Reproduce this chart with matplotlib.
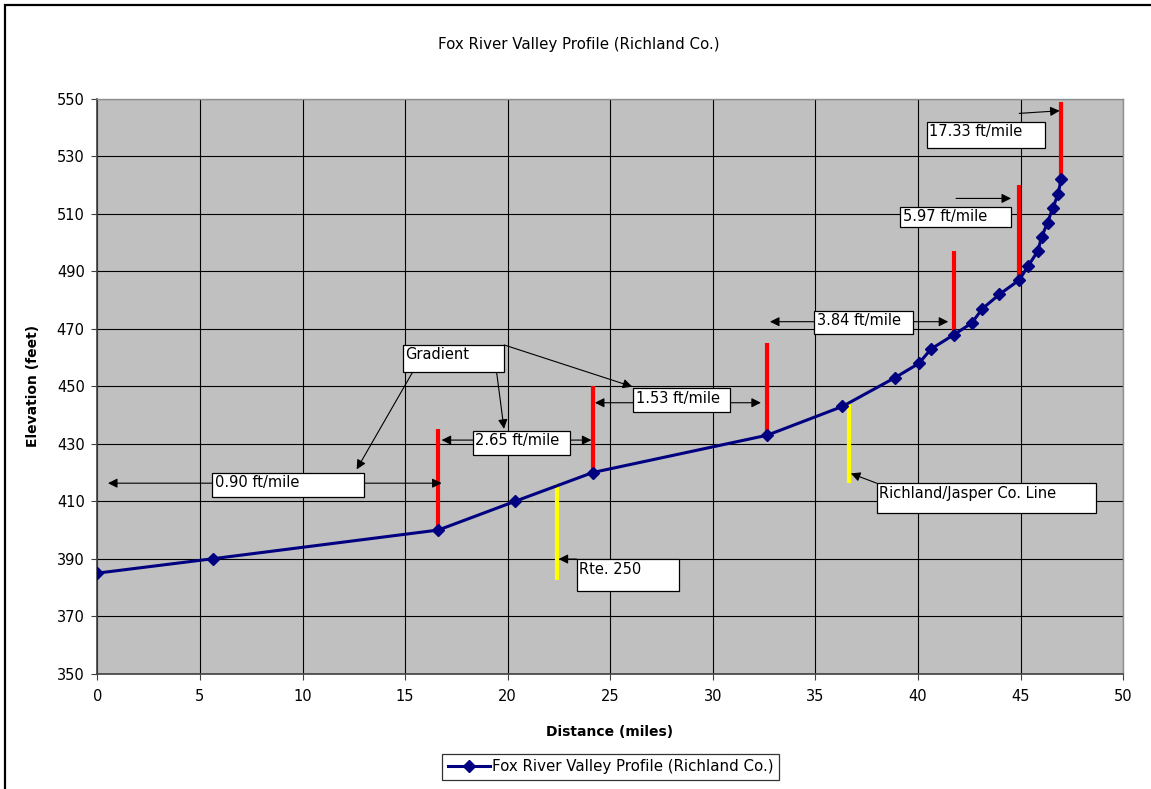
import matplotlib
matplotlib.use('Agg')
import matplotlib.pyplot as plt
from matplotlib.patches import Rectangle
from matplotlib.lines import Line2D

plt.rcParams['font.family'] = ['DejaVu Sans']

# survey points along the valley
distance = [0, 5.62, 16.62, 20.36, 24.14, 32.65, 36.31, 38.87, 40.04, 40.63, 41.75,
            42.61, 43.13, 43.96, 44.93, 45.37, 45.83, 46.02, 46.31, 46.56, 46.83, 46.96]
elevation = [385, 390, 400, 410, 420, 433, 443, 453, 458, 463, 468,
             472, 477, 482, 487, 492, 497, 502, 507, 512, 517, 522]

# red bars where the gradient changes
break_dist = [16.62, 24.14, 32.65, 41.75, 44.93, 46.96]
break_base = [400, 420, 433, 468, 487, 522]
break_top = [435, 450, 465, 497, 520, 549]

# yellow bars for road / county line crossings
cross_dist = [22.40, 36.65]
cross_low = [382.6, 416.5]
cross_high = [416.0, 443.9]
cross_names = ['Rte. 250', 'Richland/Jasper Co. Line']

gradient_labels = ['0.90 ft/mile', '2.65 ft/mile', '1.53 ft/mile',
                   '3.84 ft/mile', '5.97 ft/mile', '17.33 ft/mile']

x_ticks = list(range(0, 51, 5))
y_ticks = list(range(350, 551, 20))

W, H = 1151, 789
fig = plt.figure(figsize=(W / 100, H / 100), dpi=100)
fig.patch.set_facecolor('white')
ax = fig.add_axes([97.3 / W, 1 - 673.7 / H, 1026 / W, 574.7 / H])
ax.set_facecolor('#c0c0c0')

# chart frame, only the left and top edges fall inside the image
fig.add_artist(Line2D([5 / W, 5 / W, 1.0], [0.0, (H - 5) / H, (H - 5) / H],
                      transform=fig.transFigure, color='black', lw=1.6,
                      solid_joinstyle='miter'))

ax.set_xlim(0, 50)
ax.set_ylim(350, 550)
ax.set_xticks(x_ticks)
ax.set_yticks(y_ticks)
ax.grid(True, color='black', lw=0.8)
ax.set_axisbelow(True)
ax.tick_params(direction='out', length=4, width=0.8, labelsize=10.5, color='#404040')
ax.tick_params(axis='x', pad=7)
ax.tick_params(axis='y', pad=5)
for s in ['left', 'bottom']:
    ax.spines[s].set_color('#404040')
    ax.spines[s].set_linewidth(1.2)
for s in ['top', 'right']:
    ax.spines[s].set_color('#909090')
    ax.spines[s].set_linewidth(1.0)

ax.set_xlabel('Distance (miles)', fontsize=10, fontweight='bold')
ax.set_ylabel('Elevation (feet)', fontsize=10, fontweight='bold')
ax.xaxis.set_label_coords(0.4997, -0.089)
ax.yaxis.set_label_coords(-0.0558, 0.5)

fig.text(579 / W, 1 - 44 / H, 'Fox River Valley Profile (Richland Co.)', ha='center', va='center',
         fontsize=10.8)

ax.vlines(break_dist, break_base, break_top, colors='#ff0000', lw=3, zorder=3)
ax.vlines(cross_dist, cross_low, cross_high, colors='#ffff00', lw=3, zorder=3)

line, = ax.plot(distance, elevation, color='#000080', lw=2.2, marker='D', markersize=6.5,
                zorder=4, label='Fox River Valley Profile (Richland Co.)')


def label_box(text, x0, y0, x1, y1):
    ax.add_patch(Rectangle((x0, y0), x1 - x0, y1 - y0, fc='white', ec='black', lw=0.9, zorder=6))
    ax.annotate(text, (x0, y1), xytext=(2.0, -1.8), textcoords='offset points',
                ha='left', va='top', fontsize=10.5, zorder=7)


def arrow(start, end, both=False):
    ax.annotate('', xy=end, xytext=start, zorder=5,
                arrowprops=dict(arrowstyle='<|-|>' if both else '-|>', color='black', lw=0.8,
                                shrinkA=0, shrinkB=0, mutation_scale=14))


# gradient spans
arrow((0.52, 416.3), (16.78, 416.3), both=True)
arrow((16.78, 431.3), (24.08, 431.3), both=True)
arrow((24.25, 444.3), (32.34, 444.3), both=True)
arrow((32.78, 472.5), (41.47, 472.5), both=True)
arrow((41.85, 515.4), (44.53, 515.4))
arrow((44.93, 545.0), (46.90, 545.9))

label_box(gradient_labels[0], 5.60, 411.6, 13.01, 420.0)
label_box(gradient_labels[1], 18.29, 426.1, 23.04, 434.6)
label_box(gradient_labels[2], 26.12, 441.2, 30.83, 449.3)
label_box(gradient_labels[3], 34.93, 468.2, 39.75, 476.3)
label_box(gradient_labels[4], 39.12, 505.4, 44.53, 512.5)
label_box(gradient_labels[5], 40.42, 533.1, 46.18, 542.1)

# "Gradient" callout
label_box('Gradient', 14.88, 454.9, 19.83, 464.4)
arrow((15.37, 455.0), (12.64, 421.1))
arrow((19.46, 454.9), (19.82, 435.2))
arrow((19.83, 464.4), (26.07, 449.9))

# crossings
label_box(cross_names[0], 23.36, 378.9, 28.36, 389.9)
arrow((23.36, 389.9), (22.48, 389.9))
label_box(cross_names[1], 37.98, 405.8, 48.67, 416.3)
arrow((37.98, 416.3), (36.72, 419.7))

leg = fig.legend(handles=[line], loc='center', bbox_to_anchor=(610.5 / W, 1 - 767 / H),
                 fontsize=10.8, frameon=True, fancybox=False, edgecolor='black',
                 handlelength=2.8, handletextpad=0.15, borderpad=0.35, borderaxespad=0)
leg.get_frame().set_linewidth(0.9)

fig.savefig('out.png', dpi=100)
